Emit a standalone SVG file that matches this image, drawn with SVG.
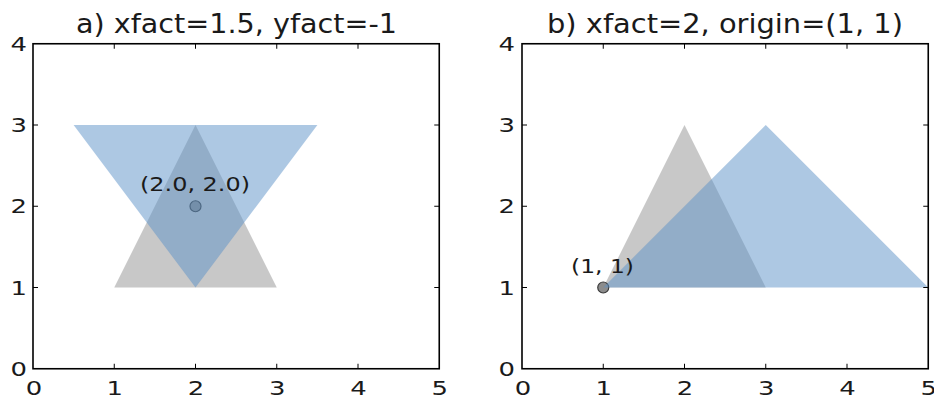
<svg xmlns="http://www.w3.org/2000/svg" width="934" height="400" viewBox="0 0 934 400">
<style>
  text { font-family: "DejaVu Sans", "Liberation Sans", sans-serif; fill: #1a1a1a; }
  .title { font-size: 26px; text-anchor: middle; }
  .tick { font-size: 19.5px; }
  .xt { text-anchor: middle; }
  .yt { text-anchor: end; }
  .ann { font-size: 20px; text-anchor: middle; }
  .frame { fill: none; stroke: #000; stroke-width: 1.6; }
  .tk { stroke: #000; stroke-width: 1; }
  .gray { fill: #c8c8c8; }
  .blue { fill: #5b91c7; fill-opacity: 0.5; }
  .pt { fill: #8c8c8c; stroke: #3c3c3c; stroke-width: 1.2; }
</style>
<rect width="934" height="400" fill="#fff"/>

<g id="panel-a">
  <text class="title" x="236.5" y="33" textLength="321" lengthAdjust="spacingAndGlyphs">a) xfact=1.5, yfact=-1</text>
  <g id="a-gray"><polygon class="gray" points="114.25,287.5 276.75,287.5 195.5,125"/></g>
  <g id="a-point"><circle class="pt" cx="195.5" cy="206.25" r="5.5"/></g>
  <g id="a-blue"><polygon class="blue" points="73.6,125 317.4,125 195.5,287.5"/></g>
  <text class="ann" x="195" y="190.5" textLength="110" lengthAdjust="spacingAndGlyphs">(2.0, 2.0)</text>
  <rect class="frame" x="33" y="43.75" width="406.25" height="325"/>
  <g class="tk">
    <path d="M114.25,368.75v-5M195.5,368.75v-5M276.75,368.75v-5M358,368.75v-5M114.25,43.75v5M195.5,43.75v5M276.75,43.75v5M358,43.75v5"/>
    <path d="M33,287.5h5M33,206.25h5M33,125h5M439.25,287.5h-5M439.25,206.25h-5M439.25,125h-5"/>
  </g>
  <g class="tick xt">
    <text x="34" y="394.5" textLength="16.5" lengthAdjust="spacingAndGlyphs">0</text>
    <text x="114.75" y="394.5" textLength="16.5" lengthAdjust="spacingAndGlyphs">1</text>
    <text x="196" y="394.5" textLength="16.5" lengthAdjust="spacingAndGlyphs">2</text>
    <text x="277.25" y="394.5" textLength="16.5" lengthAdjust="spacingAndGlyphs">3</text>
    <text x="358.5" y="394.5" textLength="16.5" lengthAdjust="spacingAndGlyphs">4</text>
    <text x="439.75" y="394.5" textLength="16.5" lengthAdjust="spacingAndGlyphs">5</text>
  </g>
  <g class="tick yt">
    <text x="27" y="375.5" textLength="16.5" lengthAdjust="spacingAndGlyphs">0</text>
    <text x="27" y="294.5" textLength="16.5" lengthAdjust="spacingAndGlyphs">1</text>
    <text x="27" y="213" textLength="16.5" lengthAdjust="spacingAndGlyphs">2</text>
    <text x="27" y="132" textLength="16.5" lengthAdjust="spacingAndGlyphs">3</text>
    <text x="27" y="50.5" textLength="16.5" lengthAdjust="spacingAndGlyphs">4</text>
  </g>
</g>

<g id="panel-b">
  <text class="title" x="725" y="33" textLength="356" lengthAdjust="spacingAndGlyphs">b) xfact=2, origin=(1, 1)</text>
  <g id="b-gray"><polygon class="gray" points="603.25,287.5 765.75,287.5 684.5,125"/></g>
  <g id="b-point"><circle class="pt" cx="603.25" cy="287.5" r="5.5"/></g>
  <g id="b-blue"><polygon class="blue" points="603.25,287.5 928.25,287.5 765.75,125"/></g>
  <text class="ann" x="602.5" y="272.5" textLength="63" lengthAdjust="spacingAndGlyphs">(1, 1)</text>
  <rect class="frame" x="522" y="43.75" width="406.25" height="325"/>
  <g class="tk">
    <path d="M603.25,368.75v-5M684.5,368.75v-5M765.75,368.75v-5M847,368.75v-5M603.25,43.75v5M684.5,43.75v5M765.75,43.75v5M847,43.75v5"/>
    <path d="M522,287.5h5M522,206.25h5M522,125h5M928.25,287.5h-5M928.25,206.25h-5M928.25,125h-5"/>
  </g>
  <g class="tick xt">
    <text x="523" y="394.5" textLength="16.5" lengthAdjust="spacingAndGlyphs">0</text>
    <text x="603.75" y="394.5" textLength="16.5" lengthAdjust="spacingAndGlyphs">1</text>
    <text x="685" y="394.5" textLength="16.5" lengthAdjust="spacingAndGlyphs">2</text>
    <text x="766.25" y="394.5" textLength="16.5" lengthAdjust="spacingAndGlyphs">3</text>
    <text x="847.5" y="394.5" textLength="16.5" lengthAdjust="spacingAndGlyphs">4</text>
    <text x="928.75" y="394.5" textLength="16.5" lengthAdjust="spacingAndGlyphs">5</text>
  </g>
  <g class="tick yt">
    <text x="515" y="375.5" textLength="16.5" lengthAdjust="spacingAndGlyphs">0</text>
    <text x="515" y="294.5" textLength="16.5" lengthAdjust="spacingAndGlyphs">1</text>
    <text x="515" y="213" textLength="16.5" lengthAdjust="spacingAndGlyphs">2</text>
    <text x="515" y="132" textLength="16.5" lengthAdjust="spacingAndGlyphs">3</text>
    <text x="515" y="50.5" textLength="16.5" lengthAdjust="spacingAndGlyphs">4</text>
  </g>
</g>
</svg>
